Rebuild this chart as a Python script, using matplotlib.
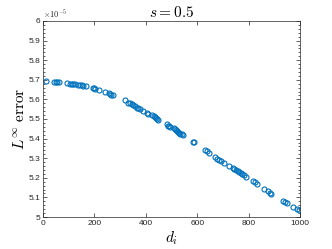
import matplotlib
matplotlib.use("Agg")
import matplotlib.pyplot as plt
from matplotlib.ticker import FuncFormatter, MultipleLocator, AutoMinorLocator

d_i = [10, 44, 52, 56, 62, 92, 105, 112, 118, 125, 138, 144, 150, 157, 167,
       193, 198, 202, 219, 242, 255, 261, 266, 271,
       320, 332, 337, 345, 352, 358, 365, 371, 377, 390, 403, 410, 423, 430, 436,
       440, 445, 449,
       481, 487, 492, 494, 510, 514, 517, 522, 526, 530, 535, 540, 544,
       585, 589, 632, 640, 647, 671, 678, 686, 693, 705, 725, 738, 745, 750, 757,
       763, 770, 776, 783, 790,
       818, 825, 832, 861, 874, 884, 887, 933, 940, 948, 974, 990, 995]
err = [5.693, 5.691, 5.690, 5.689, 5.689, 5.683, 5.681, 5.680, 5.679, 5.677,
       5.674, 5.673, 5.671, 5.670, 5.667,
       5.659, 5.657, 5.655, 5.648, 5.638, 5.631, 5.628, 5.624, 5.621,
       5.595, 5.584, 5.582, 5.574, 5.569, 5.564, 5.558, 5.554, 5.550, 5.540,
       5.532, 5.527, 5.518, 5.513, 5.509, 5.505, 5.501, 5.494,
       5.472, 5.466, 5.462, 5.460, 5.452, 5.449, 5.443, 5.440, 5.436, 5.429,
       5.426, 5.421, 5.416,
       5.384, 5.381, 5.344, 5.338, 5.327, 5.304, 5.298, 5.292, 5.286, 5.275,
       5.262, 5.248, 5.244, 5.240, 5.236, 5.230, 5.224, 5.219, 5.214, 5.202,
       5.185, 5.177, 5.168, 5.142, 5.133, 5.122, 5.119, 5.082, 5.077, 5.070,
       5.053, 5.040, 5.036]
err = [v * 1e-5 for v in err]

plt.rcParams['mathtext.fontset'] = 'cm'
axc = (0.15, 0.15, 0.15)
fig = plt.figure(figsize=(3.32, 2.49), dpi=100)
ax = fig.add_axes([0.1295, 0.1285, 0.7741, 0.7872])
ax.plot(d_i, err, 'o', mfc='none', mec='#0072BD', ms=3.6, mew=0.8)
ax.set_xlim(0, 1000)
ax.set_ylim(5e-5, 6e-5)
ax.xaxis.set_major_locator(MultipleLocator(200))
ax.yaxis.set_major_locator(MultipleLocator(0.1e-5))
ax.yaxis.set_minor_locator(AutoMinorLocator(5))
ax.yaxis.set_major_formatter(FuncFormatter(lambda v, p: f"{round(v*1e5, 1):g}"))
ax.tick_params(which='both', direction='in', top=True, right=True, colors=axc,
               labelsize=6, width=0.5, pad=2)
ax.tick_params(which='major', length=3)
ax.tick_params(which='minor', length=1.5)
for lab in ax.get_xticklabels() + ax.get_yticklabels():
    lab.set_fontfamily('Liberation Sans')
for s in ax.spines.values():
    s.set_color(axc)
    s.set_linewidth(0.5)
ax.text(0.0, 1.005, r'$\times10^{-5}$', transform=ax.transAxes, fontsize=6,
        color=axc, ha='left', va='bottom')
ax.set_title(r'$s = 0.5$', fontsize=11, pad=3)
ax.set_xlabel(r'$d_i$', fontsize=11, labelpad=2)
ax.set_ylabel(r'$L^\infty\ \mathrm{error}$', fontsize=11, labelpad=1)
fig.savefig('out.png', dpi=100)
